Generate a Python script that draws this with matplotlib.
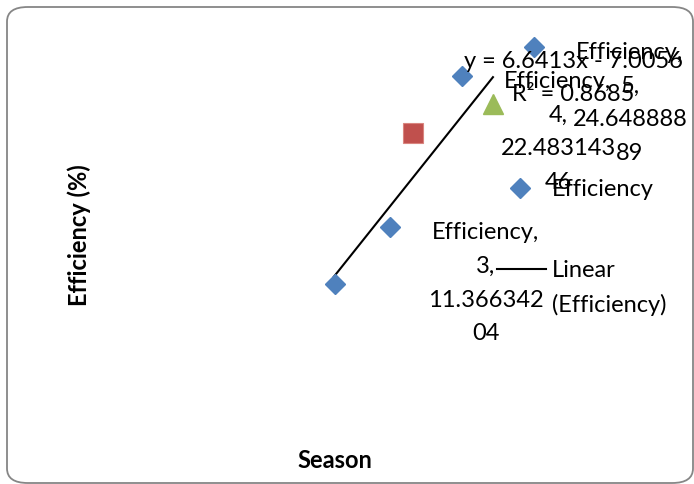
import numpy as np
import matplotlib.pyplot as plt
from matplotlib.patches import FancyBboxPatch

plt.rcParams['font.family'] = ['Lato', 'DejaVu Sans']

# Efficiency per season (first point has no data label)
eff_x = [2.24, 3, 4, 5]
eff_y = [7.21, 11.36634204, 22.48314346, 24.64888889]
labelled = [False, True, True, True]

# two single-point series drawn without legend entries
sq_x, sq_y = [3.32], [18.31]
tri_x, tri_y = [4.43], [20.44]

# linear trendline of the efficiency series
slope = 6.6413
intercept = -7.0056
r_squared = 0.8685
trend_x = np.array([2.22, 4.43])

blue = '#4F81BD'
red = '#C0504D'
green = '#9BBB59'
fs = 17
ls = 1.74

W, H = 694, 484
fig = plt.figure(figsize=(W / 100, H / 100), dpi=100)
ax = fig.add_axes([0, 0, 1, 1])
ax.axis('off')
ax.set_xlim(-174 / 72, (W - 174) / 72)
ax.set_ylim((382 - H) / 13.6, 382 / 13.6)

# rounded chart border
frame = FancyBboxPatch((7 / W, 1 / H), 686 / W, 476 / H,
                       boxstyle='round,pad=0,rounding_size=0.03',
                       transform=fig.transFigure, facecolor='none',
                       edgecolor='#868686', linewidth=1.3, zorder=0)
fig.patches.append(frame)

ax.plot(trend_x, slope * trend_x + intercept, color='black', lw=1.5, zorder=2)
ax.plot(eff_x, eff_y, 'D', color=blue, ms=10, mec=blue, zorder=3)
ax.plot(sq_x, sq_y, 's', color=red, ms=14, mec='#D9857F', mew=0.8, zorder=3)
ax.plot(tri_x, tri_y, '^', color=green, ms=14, mec=green, zorder=3)

# data labels: series name, x value and y value wrapped like the spreadsheet does
for x, y, show in zip(eff_x, eff_y, labelled):
    if not show:
        continue
    ys = f'{y:.8f}'
    txt = f'Efficiency,\n{x},\n{ys[:9]}\n{ys[9:]}'
    ax.annotate(txt, (x, y), xytext=(96, 5), textcoords='offset pixels',
                ha='center', va='top', multialignment='center',
                fontsize=fs, linespacing=ls, zorder=4)

# trendline equation
eq = f'y = {slope}x - {abs(intercept)}\nR\u00b2 = {r_squared}'
fig.text(573 / W, 1 - 78 / H, eq, ha='center', va='center',
         multialignment='center', fontsize=fs, linespacing=1.65)

# legend
ax.plot([520 / W], [1 - 188 / H], 'D', color=blue, ms=10,
        transform=ax.transAxes, clip_on=False)
fig.text(552 / W, 1 - 189 / H, 'Efficiency', ha='left', va='center', fontsize=fs)
ax.plot([497 / W, 546 / W], [1 - 269 / H] * 2, color='black', lw=1.5,
        transform=ax.transAxes, clip_on=False)
fig.text(552 / W, 1 - 260 / H, 'Linear\n(Efficiency)', ha='left',
         va='top', fontsize=fs, linespacing=ls)

# axis titles
fig.text(335 / W, 1 - 460 / H, 'Season', ha='center', va='center',
         fontsize=fs, fontweight='bold')
fig.text(79 / W, 1 - 235 / H, 'Efficiency (%)', ha='center', va='center',
         rotation=90, fontsize=fs, fontweight='bold')

fig.savefig('out.png', dpi=100)
